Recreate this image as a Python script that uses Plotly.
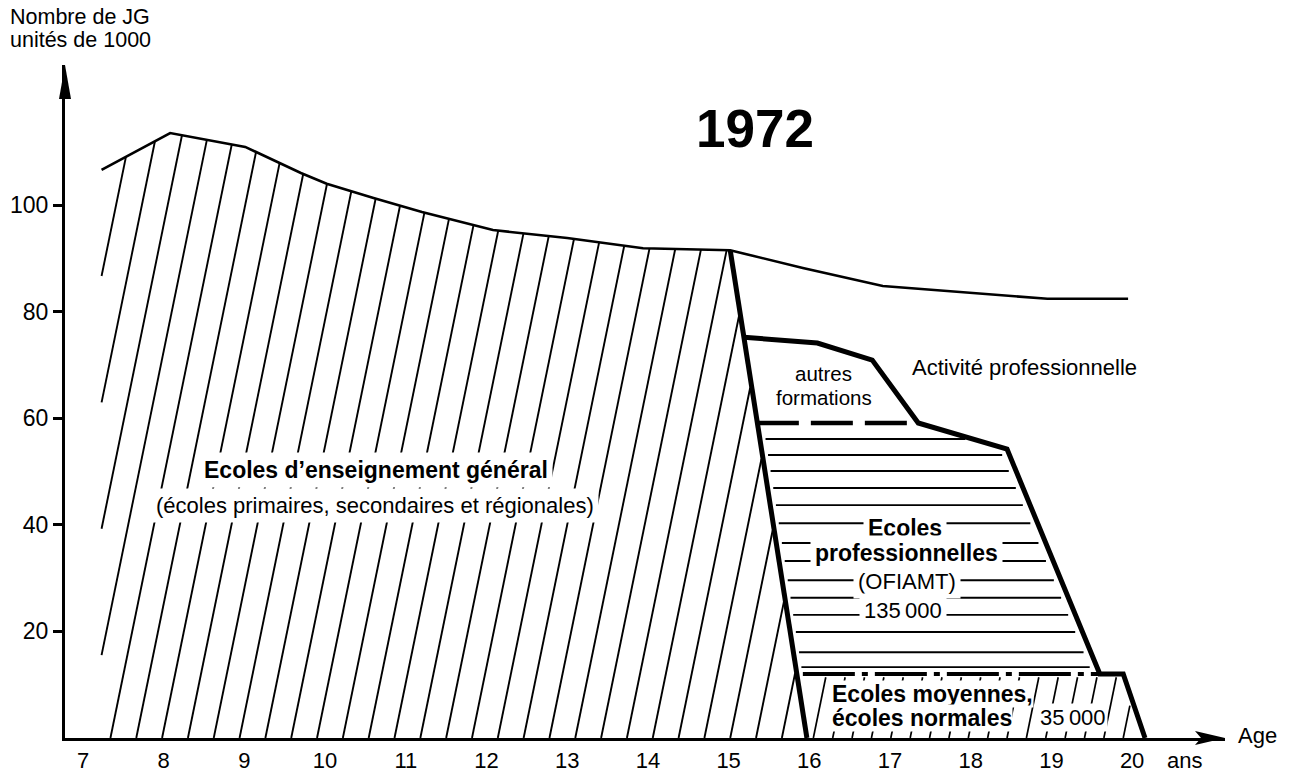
import numpy as np
import plotly.graph_objects as go

# ---------------- data ----------------
# total number of young people per age (thousands)
ages_total = [7.23, 8.08, 9.01, 9.70, 10.02, 10.60, 11.20, 12.08, 13.00, 13.94, 15.02, 15.92, 16.91, 17.99, 18.95, 19.95]
total_jg = [106.6, 113.5, 110.9, 106.0, 104.0, 101.3, 98.7, 95.3, 93.8, 91.9, 91.5, 88.2, 84.8, 83.5, 82.4, 82.4]

# end of general schooling (thick line)
general_end_age = [15.02, 15.97]
general_end_val = [91.5, 0.0]
# implied left edge of the general-schools area
general_left_age = [6.99, 7.23]
general_left_val = [0.0, 106.6]

# outline: autres formations / écoles professionnelles / écoles moyennes
outline_age = [15.19, 16.10, 16.78, 17.35, 18.45, 19.60, 19.89, 20.16]
outline_val = [75.2, 74.1, 70.9, 59.1, 54.2, 12.0, 12.0, 0.0]

# boundary autres formations / écoles professionnelles (dashed)
dashed_age = [15.35, 17.35]
dashed_val = [59.1, 59.1]
# boundary écoles professionnelles / écoles moyennes (dash-dot)
dashdot_age = [15.92, 19.60]
dashdot_val = [12.0, 12.0]

# horizontal hatch levels in the écoles professionnelles area
hlines_val = [56.1, 53.1, 50.1, 46.9, 43.7, 40.3, 36.6, 33.2, 29.6, 26.3, 23.1, 19.9, 16.1, 13.3]

x_ticks = list(range(7, 21))
y_ticks = [20, 40, 60, 80, 100]

# ---------------- helpers ----------------
K = 0.0135  # slant of hatch strokes (years per unit)
end_v = general_end_val[::-1]
end_a = general_end_age[::-1]


def thick_x(v):
    return np.interp(v, end_v, end_a)


# diagonal hatching in the general-schools area
gx, gy = [], []
vs = np.linspace(0, 125, 6251)
for x0 in np.arange(7.02 - 5 * 0.32, 16.2, 0.32):
    xs = x0 + K * vs
    left = np.interp(vs, general_left_val, general_left_age) + 0.03
    right = thick_x(vs) - 0.02
    top = np.interp(xs, ages_total, total_jg, left=-1, right=-1)
    inside = (xs >= left) & (xs <= right) & (vs <= top)
    idx = np.where(inside)[0]
    if len(idx) < 2:
        continue
    runs = np.split(idx, np.where(np.diff(idx) > 1)[0] + 1)
    for r in runs:
        if len(r) < 2:
            continue
        gx += [xs[r[0]], xs[r[-1]], None]
        gy += [vs[r[0]], vs[r[-1]], None]

# horizontal hatching (écoles professionnelles)
r_v = outline_val[5:2:-1]
r_a = outline_age[5:2:-1]
hx, hy = [], []
for v in hlines_val:
    xl = float(thick_x(v)) + 0.07
    xr = float(np.interp(v, r_v, r_a)) - 0.09
    hx += [xl, xr, None]
    hy += [v, v, None]

# short slanted strokes (écoles moyennes)
vx, vy = [], []
vv = np.linspace(0, 11.4, 400)
for x0 in np.arange(16.05, 20.3, 0.24):
    xs = x0 + K * vv
    left = thick_x(vv) + 0.05
    right = np.interp(vv, [0.0, 12.0], [outline_age[-1], outline_age[-2]]) - 0.05
    inside = (xs >= left) & (xs <= right)
    idx = np.where(inside)[0]
    if len(idx) < 2:
        continue
    vx += [xs[idx[0]], xs[idx[-1]], None]
    vy += [vv[idx[0]], vv[idx[-1]], None]

fig = go.Figure()
blk = "black"
fig.add_trace(go.Scatter(x=gx, y=gy, mode="lines", line=dict(color=blk, width=1.9), hoverinfo="skip"))
fig.add_trace(go.Scatter(x=hx, y=hy, mode="lines", line=dict(color=blk, width=1.9), hoverinfo="skip"))
fig.add_trace(go.Scatter(x=vx, y=vy, mode="lines", line=dict(color=blk, width=1.7), hoverinfo="skip"))
fig.add_trace(go.Scatter(x=ages_total, y=total_jg, mode="lines", line=dict(color=blk, width=2.6)))
fig.add_trace(go.Scatter(x=general_end_age, y=general_end_val, mode="lines", line=dict(color=blk, width=5)))
fig.add_trace(go.Scatter(x=outline_age, y=outline_val, mode="lines", line=dict(color=blk, width=5)))
fig.add_trace(go.Scatter(x=dashed_age, y=dashed_val, mode="lines", line=dict(color=blk, width=4.5, dash="42px,12px")))
fig.add_trace(go.Scatter(x=dashdot_age, y=dashdot_val, mode="lines", line=dict(color=blk, width=4, dash="52px,7px,6px,7px")))

FONT = "Liberation Sans, Arial, Helvetica, sans-serif"


def txt(s, x, y, size=22, bold=False, bg=False, xanchor="center", pad=4, xref="x", yref="y"):
    d = dict(x=x, y=y, xref=xref, yref=yref, text=(f"<b>{s}</b>" if bold else s), showarrow=False,
             xanchor=xanchor, yanchor="middle", font=dict(size=size, color=blk, family=FONT))
    if bg:
        d.update(bgcolor="white", borderpad=pad)
    return d


annotations = [
    txt("1972", 15.33, 114.4, size=53, bold=True),
    txt("Activité professionnelle", 17.25, 69.6, xanchor="left"),
    txt("autres", 16.18, 68.3, size=20.5),
    txt("formations", 16.18, 63.8, size=20.5),
    txt("Ecoles d’enseignement général", 10.63, 50.3, size=23, bold=True, bg=True),
    txt("(écoles primaires, secondaires et régionales)", 10.62, 43.7, bg=True),
    txt("Ecoles", 17.19, 39.4, size=23, bold=True, bg=True),
    txt("professionnelles", 17.21, 34.7, size=23, bold=True, bg=True),
    txt("(OFIAMT)", 17.21, 29.3, bg=True),
    txt("135\u2009000", 17.16, 24.0, bg=True),
    txt("Ecoles moyennes,", 16.27, 8.3, size=23, bold=True, bg=True, xanchor="left", pad=0),
    txt("écoles normales", 16.27, 3.75, size=23, bold=True, bg=True, xanchor="left", pad=0),
    txt("35\u2009000", 18.83, 3.9, bg=True, xanchor="left", pad=1),
    txt("Age", 1.0095, 0.004, xanchor="left", xref="paper", yref="paper"),
    txt("ans", 0.948, -0.034, xanchor="left", xref="paper", yref="paper"),
    txt("Nombre de JG", -0.049, 1.071, size=21.5, xanchor="left", xref="paper", yref="paper"),
    txt("unités de 1000", -0.049, 1.037, size=21.5, xanchor="left", xref="paper", yref="paper"),
]

shapes = [
    # arrow head of the y axis
    dict(type="path", xref="paper", yref="paper", xsizemode="pixel", ysizemode="pixel",
         xanchor=0, yanchor=1, path="M -6,-34 L 0,0 L 6,-34 Z", fillcolor=blk, line=dict(width=0)),
    # arrow head of the x axis
    dict(type="path", xref="paper", yref="paper", xsizemode="pixel", ysizemode="pixel",
         xanchor=1, yanchor=0, path="M 0,0 L -30,7 L -24,0 L -30,-7 Z", fillcolor=blk, line=dict(width=0)),
]

fig.update_layout(
    width=1289, height=773,
    margin=dict(l=65, r=64, t=65, b=35),
    plot_bgcolor="white", paper_bgcolor="white",
    showlegend=False,
    font=dict(family=FONT, color=blk),
    annotations=annotations,
    shapes=shapes,
    xaxis=dict(range=[6.777, 21.151], showline=True, linecolor=blk, linewidth=3, showgrid=False,
               zeroline=False, tickvals=x_ticks, ticks="", tickfont=dict(size=22, family=FONT),
               ticklabelstandoff=1, automargin=False, fixedrange=True),
    yaxis=dict(range=[0, 126.27], showline=True, linecolor=blk, linewidth=3, showgrid=False,
               zeroline=False, tickvals=y_ticks, ticks="outside", ticklen=9, tickwidth=2.5,
               tickcolor=blk, tickfont=dict(size=23, family=FONT), automargin=False, fixedrange=True),
)

fig.write_html(
    "out.html",
    config={"displayModeBar": False},
    post_script="document.body.style.margin='0px';document.body.style.overflow='hidden';",
)
